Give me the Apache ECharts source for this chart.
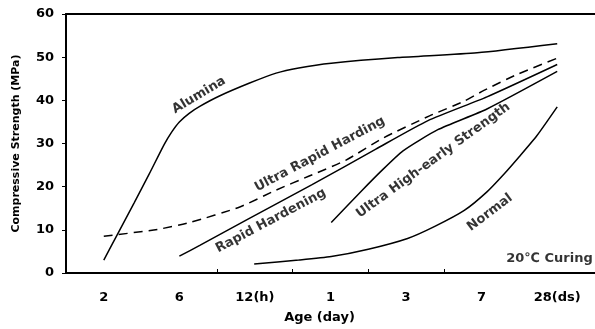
<!DOCTYPE html>
<html>
<head>
<meta charset="utf-8">
<script src="https://cdn.jsdelivr.net/npm/echarts@6/dist/echarts.min.js"></script>
<style>
html,body{margin:0;padding:0;background:#fff;}
#chart{width:595px;height:329px;}
</style>
</head>
<body>
<div id="chart"></div>
<script>
// Categories (age)
var categories = ['2', '6', '12(h)', '1', '3', '7', '28(ds)'];
var yTicks = [0, 10, 20, 30, 40, 50, 60];

// Series: [category position, compressive strength MPa]
var alumina = [[0,3],[0.2,9.6],[0.4,16.2],[0.6,22.9],[0.8,29.8],[0.9,32.7],[1.0,35],[1.13,37],[1.27,38.6],[1.53,41],[1.93,44],[2.28,46.3],[2.58,47.5],[3.01,48.6],[3.89,49.9],[4.94,51],[6.0,53.1]];
var ultraRapidHarding = [[0,8.5],[0.71,10.1],[1.14,11.7],[1.8,15.3],[2.28,19.2],[2.71,22.4],[3.2,26.1],[3.7,31.3],[4.31,36.4],[4.77,39.8],[5.03,42.3],[5.47,46],[5.99,49.7]];
var rapidHardening = [[1.0,3.9],[1.27,6.4],[1.89,12.3],[2.75,20.4],[3.6,28.7],[4.29,35.3],[5.07,40.8],[6.0,48.3]];
var ultraHighEarly = [[3.01,11.7],[3.41,19],[3.67,23.6],[3.96,28.3],[4.42,33.2],[5.07,38],[6.0,46.7]];
var normal = [[1.99,2.1],[2.58,3],[3.01,3.8],[3.5,5.5],[4.02,8],[4.38,10.8],[4.77,14.5],[5.07,18.8],[5.3,23],[5.5,27],[5.73,31.8],[6.0,38.5]];

// Curve labels: text, position (category units, MPa), angle
var labelTexts = ['Alumina', 'Ultra Rapid Harding', 'Rapid Hardening', 'Ultra High-early Strength', 'Normal'];
var labelPos = [[1.26,41.2],[2.86,27.5],[2.21,12.1],[4.36,26.1],[5.11,14]];
var labelAngles = [31, 28, 28, 36, 37];

var FONT = '"DejaVu Sans", Arial, sans-serif';

var chart = echarts.init(document.getElementById('chart'), null, {renderer: 'canvas'});

function lineSeries(name, data, dashed) {
  return {
    name: name, type: 'line', xAxisIndex: 1, yAxisIndex: 0,
    data: data, smooth: 0.2, showSymbol: false, symbol: 'none',
    silent: true, animation: false,
    lineStyle: {color: '#000', width: 1.5, type: dashed ? [9, 6] : 'solid'}
  };
}

var annData = labelTexts.map(function (t, i) {
  return {
    value: labelPos[i], name: t,
    label: {rotate: labelAngles[i]}
  };
});

var option = {
  animation: false,
  backgroundColor: '#fff',
  grid: {left: 66, top: 14, right: -5, bottom: 53, containLabel: false},
  xAxis: [
    {
      type: 'category', data: categories, boundaryGap: true, position: 'bottom',
      axisLine: {show: true, onZero: false, lineStyle: {color: '#000', width: 2}},
      axisTick: {show: true, inside: true, length: 4, lineStyle: {color: '#000', width: 1},
        interval: function (index) { return index >= 2 && index <= 5; }},
      axisLabel: {color: '#000', fontFamily: FONT, fontWeight: 'bold', fontSize: 13, margin: 18},
      splitLine: {show: false},
      name: 'Age (day)', nameLocation: 'middle', nameGap: 38,
      nameTextStyle: {color: '#000', fontFamily: FONT, fontWeight: 'bold', fontSize: 13, padding: [0, 22, 0, 0]}
    },
    {
      type: 'value', min: -0.5, max: 6.5, position: 'top',
      axisLine: {show: true, onZero: false, lineStyle: {color: '#000', width: 2}},
      axisTick: {show: false}, axisLabel: {show: false}, splitLine: {show: false}
    }
  ],
  yAxis: [{
    type: 'value', min: 0, max: 60, interval: 10, position: 'left',
    axisLine: {show: true, onZero: false, lineStyle: {color: '#000', width: 2}},
    axisTick: {show: true, length: 4, lineStyle: {color: '#000', width: 1}},
    axisLabel: {color: '#000', fontFamily: FONT, fontWeight: 'bold', fontSize: 13, margin: 12,
      formatter: function (v) { return yTicks.indexOf(v) >= 0 ? String(v) : ''; }},
    splitLine: {show: false},
    name: 'Compressive Strength (MPa)', nameLocation: 'middle', nameGap: 44, nameRotate: 90,
    nameTextStyle: {color: '#000', fontFamily: FONT, fontWeight: 'bold', fontSize: 11}
  }],
  series: [
    lineSeries('Alumina', alumina, false),
    lineSeries('Ultra Rapid Harding', ultraRapidHarding, true),
    lineSeries('Rapid Hardening', rapidHardening, false),
    lineSeries('Ultra High-early Strength', ultraHighEarly, false),
    lineSeries('Normal', normal, false),
    {
      type: 'scatter', xAxisIndex: 1, yAxisIndex: 0, symbolSize: 0, silent: true,
      data: annData,
      label: {show: true, position: 'inside', formatter: '{b}', color: '#000',
        fontFamily: FONT, fontWeight: 'bold', fontSize: 13}
    },
    {
      type: 'scatter', xAxisIndex: 1, yAxisIndex: 0, symbolSize: 0, silent: true,
      data: [{value: [6.47, 3.3], name: '20\u2103 Curing'}],
      label: {show: true, position: 'left', distance: 0, formatter: '{b}', color: '#000',
        fontFamily: FONT, fontWeight: 'bold', fontSize: 13}
    }
  ]
};
chart.setOption(option);
</script>
</body>
</html>
